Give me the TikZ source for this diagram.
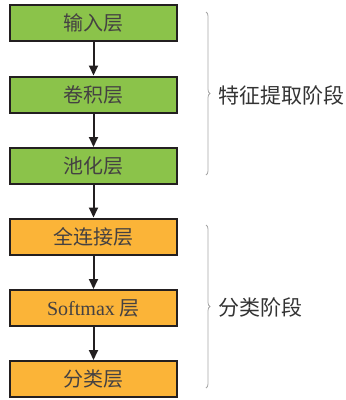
\documentclass[tikz,border=0pt]{standalone}
\usepackage{fontspec}
\setmainfont{Liberation Serif}
\newfontfamily\cjk{Noto Sans CJK SC}
\usetikzlibrary{arrows.meta,decorations.pathreplacing}
\definecolor{boxgreen}{HTML}{8BC34A}
\definecolor{boxorange}{HTML}{FBB438}
\definecolor{edgedark}{HTML}{231F20}
\tikzset{
  layerbox/.style={draw=edgedark, line width=2pt, minimum width=167pt, minimum height=36pt, inner sep=0pt, font=\fontsize{20}{22}\selectfont, text=edgedark!85},
  greenbox/.style={layerbox, fill=boxgreen},
  orangebox/.style={layerbox, fill=boxorange},
  flow/.style={draw=edgedark, line width=2pt, -{Triangle[width=9pt,length=10pt]}},
  stagebrace/.style={draw=gray!70, line width=0.8pt, decorate, decoration={brace, amplitude=4pt}},
  stagelabel/.style={anchor=west, inner sep=0pt, font=\fontsize{21}{23}\selectfont\cjk, text=black!80}
}
\begin{document}
\begin{tikzpicture}[x=1pt,y=-1pt]
\useasboundingbox (0,0) rectangle (346,400);
\node[greenbox] (n1) at (93.5,23) {\cjk 输入层};
\node[greenbox] (n2) at (93.5,94.5) {\cjk 卷积层};
\node[greenbox] (n3) at (93.5,166) {\cjk 池化层};
\node[orangebox] (n4) at (93.5,236.5) {\cjk 全连接层};
\node[orangebox] (n5) at (93.5,308) {Softmax {\cjk 层}};
\node[orangebox] (n6) at (93.5,379) {\cjk 分类层};
\draw[flow] (n1) -- (n2);
\draw[flow] (n2) -- (n3);
\draw[flow] (n3) -- (n4);
\draw[flow] (n4) -- (n5);
\draw[flow] (n5) -- (n6);
\coordinate (b1t) at (206,12);
\coordinate (b1b) at (206,175);
\coordinate (b2t) at (206,225);
\coordinate (b2b) at (206,388);
\draw[stagebrace] (b1t) -- (b1b);
\draw[stagebrace] (b2t) -- (b2b);
\node[stagelabel] (s1) at (218,95) {特征提取阶段};
\node[stagelabel] (s2) at (218,307) {分类阶段};
\end{tikzpicture}
\end{document}
